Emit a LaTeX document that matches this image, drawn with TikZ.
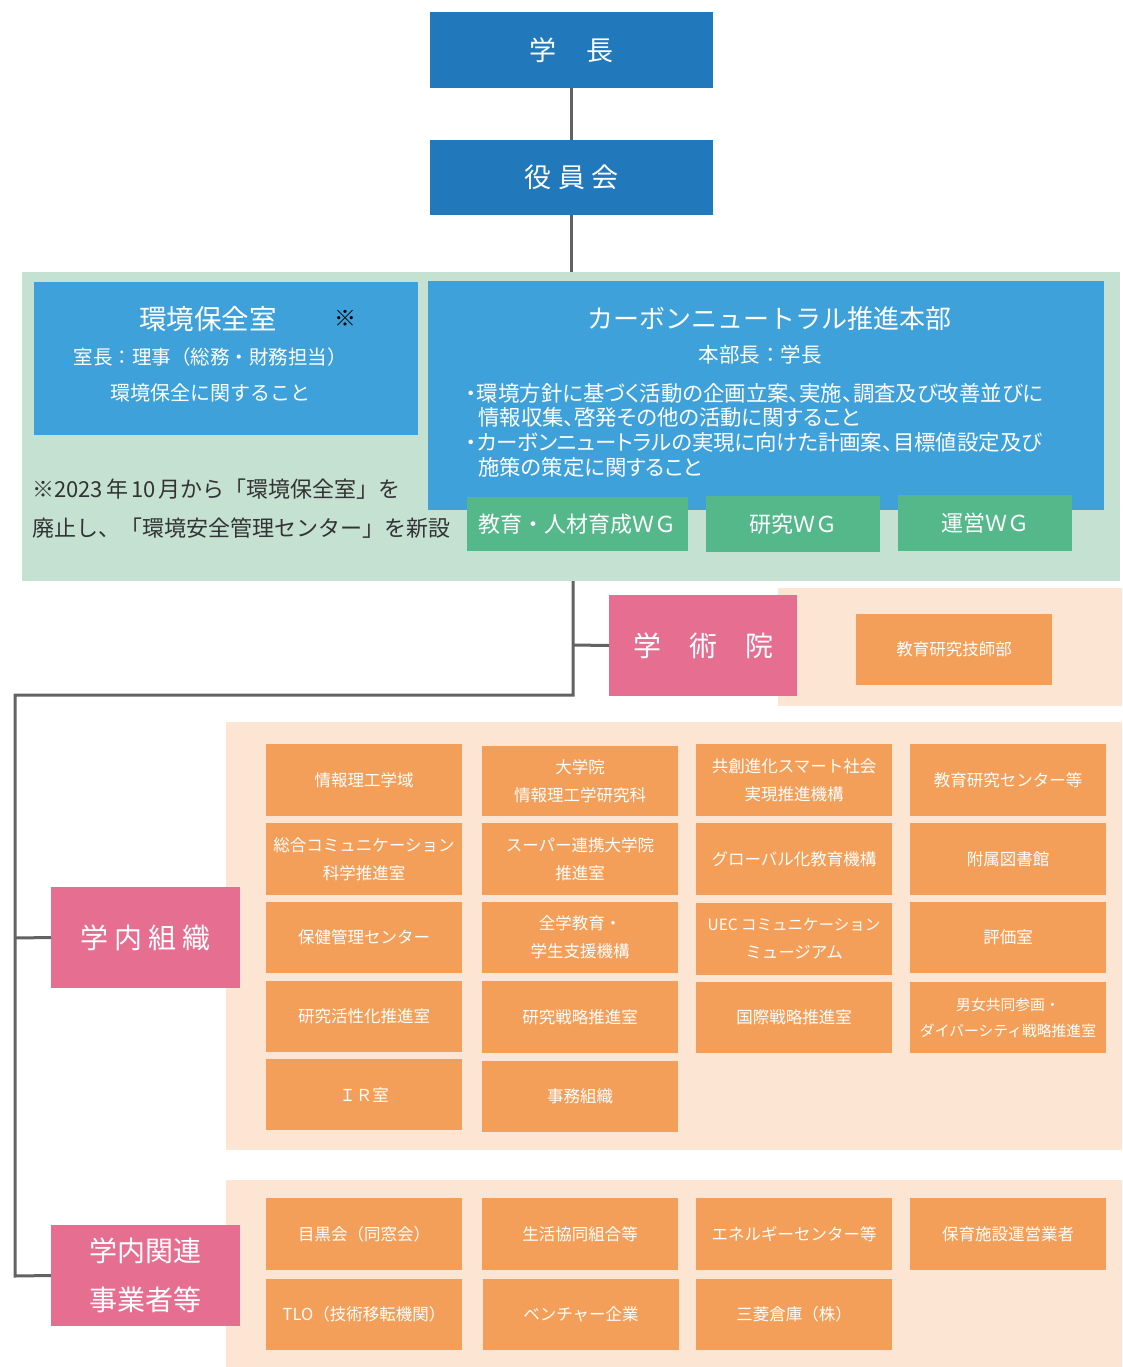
\documentclass[tikz,border=0pt]{standalone}
\usepackage{fontspec}
\setmainfont{Noto Sans CJK JP}
\newfontfamily\pfont[RawFeature=+palt]{Noto Sans CJK JP}
\definecolor{dblue}{HTML}{2179BC}
\definecolor{lblue}{HTML}{3FA1DA}
\definecolor{wggreen}{HTML}{55B88B}
\definecolor{bggreen}{HTML}{C4E1D2}
\definecolor{bgpeach}{HTML}{FCE6D3}
\definecolor{orng}{HTML}{F49F59}
\definecolor{pnk}{HTML}{E66F91}
\definecolor{conncol}{HTML}{626262}
\definecolor{notecol}{HTML}{333333}
\newcommand\fs[2]{\fontsize{#1pt}{#2pt}\selectfont}
\newcommand\bx[7]{\node[#2,minimum width={#5pt-#3pt},minimum height={#6pt-#4pt}] (#1) at ({(#3+#5)/2},{(#4+#6)/2}) {#7};}
\tikzset{
  basebox/.style={inner sep=0pt,outer sep=0pt,text=white,align=center},
  topbox/.style={basebox,fill=dblue,font=\fs{27}{32}},
  midbox/.style={basebox,fill=lblue},
  wgbox/.style={basebox,fill=wggreen,font=\fs{22}{26}},
  pinkbox/.style={basebox,fill=pnk,font=\fs{28}{49}},
  orbox/.style={basebox,fill=orng,font=\fs{16.5}{28}},
  bggbox/.style={basebox,fill=bggreen},
  bgpbox/.style={basebox,fill=bgpeach},
  conn/.style={draw=conncol,line width=3pt},
  wtext/.style={inner sep=0pt,text=white},
  ntext/.style={inner sep=0pt,text=notecol,font=\fs{22}{26},anchor=west}
}
\begin{document}
\begin{tikzpicture}[x=1pt,y=-1pt]
\useasboundingbox (0,0) rectangle (1122,1367);
% backgrounds
\bx{gbg}{bggbox}{22}{272}{1120}{581}{}
\bx{pbg1}{bgpbox}{778}{588}{1122}{706}{}
\bx{pbg2}{bgpbox}{226}{722}{1122}{1150}{}
\bx{pbg3}{bgpbox}{226}{1180}{1122}{1367}{}
% top
\bx{gakucho}{topbox}{430}{12}{713}{88}{学\hspace{30pt}長}
\bx{yakuin}{topbox}{430}{140}{713}{215}{役\hspace{7pt}員\hspace{7pt}会}
% blue boxes
\bx{kankyo}{midbox}{34}{282}{418}{435}{}
\node[wtext,font=\fs{27.5}{30}] (kt) at (208,319) {環境保全室};
\node[wtext,text=black,font=\fs{22}{26}] (kmark) at (345,318) {※};
\node[wtext,font=\fs{19.5}{24}] (kl1) at (210,357) {室長：理事（総務・財務担当）};
\node[wtext,font=\fs{20}{24}] (kl2) at (210,393) {環境保全に関すること};
\bx{carbon}{midbox}{428}{281}{1104}{510}{}
\node[wtext,font=\fs{26}{30}] (ct) at (769,319) {カーボンニュートラル推進本部};
\node[wtext,font=\fs{20.5}{24}] (cl1) at (760,355) {本部長：学長};
\node[wtext,anchor=west,font={\pfont\fs{21.4}{24}}] (cb1) at (466,393) {・環境方針に基づく活動の企画立案、実施、調査及び改善並びに};
\node[wtext,anchor=west,font={\pfont\fs{21.4}{24}}] (cb2) at (478,417) {情報収集、啓発その他の活動に関すること};
\node[wtext,anchor=west,font={\pfont\fs{21.4}{24}}] (cb3) at (466,442) {・カーボンニュートラルの実現に向けた計画案、目標値設定及び};
\node[wtext,anchor=west,font={\pfont\fs{21.4}{24}}] (cb4) at (478,467) {施策の策定に関すること};
% WG
\bx{wg1}{wgbox}{467}{497}{688}{551}{教育・人材育成ＷＧ}
\bx{wg2}{wgbox}{706}{496}{880}{552}{研究ＷＧ}
\bx{wg3}{wgbox}{898}{495}{1072}{551}{運営ＷＧ}
% note
\node[ntext] (n1) at (32,489) {※2023\hspace{3pt}年\hspace{3pt}10\hspace{3pt}月から「環境保全室」を};
\node[ntext] (n2) at (32,528) {廃止し、「環境安全管理センター」を新設};
% pink
\bx{gakujutsu}{pinkbox}{609}{595}{797}{696}{学\hspace{28pt}術\hspace{28pt}院}
\bx{gakunai}{pinkbox}{51}{887}{240}{988}{学\hspace{6pt}内\hspace{6pt}組\hspace{6pt}織}
\bx{kanren}{pinkbox}{51}{1225}{240}{1326}{学内関連\\事業者等}
% academy
\bx{gishi}{orbox}{856}{614}{1052}{685}{教育研究技師部}
% internal grid
\bx{a1}{orbox}{266}{744}{462}{816}{情報理工学域}
\bx{b1}{orbox}{482}{746}{678}{816}{大学院\\情報理工学研究科}
\bx{c1}{orbox}{696}{744}{892}{816}{共創進化スマート社会\\実現推進機構}
\bx{d1}{orbox}{910}{744}{1106}{816}{教育研究センター等}
\bx{a2}{orbox}{266}{823}{462}{895}{総合コミュニケーション\\科学推進室}
\bx{b2}{orbox}{482}{823}{678}{895}{スーパー連携大学院\\推進室}
\bx{c2}{orbox}{696}{823}{892}{895}{グローバル化教育機構}
\bx{d2}{orbox}{910}{823}{1106}{895}{附属図書館}
\bx{a3}{orbox}{266}{902}{462}{973}{保健管理センター}
\bx{b3}{orbox}{482}{902}{678}{973}{全学教育・\\学生支援機構}
\bx{c3}{orbox}{696}{903}{892}{975}{{\fs{15.5}{28}UEC コミュニケーション}\\ミュージアム}
\bx{d3}{orbox}{910}{902}{1106}{973}{評価室}
\bx{a4}{orbox}{266}{981}{462}{1052}{研究活性化推進室}
\bx{b4}{orbox}{482}{981}{678}{1053}{研究戦略推進室}
\bx{c4}{orbox}{696}{982}{892}{1053}{国際戦略推進室}
\bx{d4}{orbox,font=\fs{14.8}{26}}{910}{982}{1106}{1053}{男女共同参画・\\ダイバーシティ戦略推進室}
\bx{a5}{orbox}{266}{1059}{462}{1130}{ＩＲ室}
\bx{b5}{orbox}{482}{1061}{678}{1132}{事務組織}
% related
\bx{e1}{orbox}{266}{1198}{462}{1270}{目黒会（同窓会）}
\bx{f1}{orbox}{482}{1198}{678}{1270}{生活協同組合等}
\bx{g1}{orbox}{696}{1198}{892}{1270}{エネルギーセンター等}
\bx{h1}{orbox}{910}{1198}{1106}{1270}{保育施設運営業者}
\bx{e2}{orbox}{266}{1279}{462}{1350}{TLO（技術移転機関）}
\bx{f2}{orbox}{483}{1279}{679}{1350}{ベンチャー企業}
\bx{g2}{orbox}{696}{1279}{892}{1350}{三菱倉庫（株）}
% connectors
\coordinate (j1) at (573,645);
\coordinate (j2) at (573,695);
\coordinate (j3) at (15,695);
\coordinate (j4) at (15,938);
\coordinate (j5) at (15,1276);
\draw[conn] (gakucho.south) -- (yakuin.north);
\draw[conn] (yakuin.south) -- (yakuin.south |- gbg.north);
\draw[conn] (gbg.south -| j1) -- (j2) -- (j3) -- (j5) -- (kanren.west);
\draw[conn] (j1) -- (gakujutsu.west);
\draw[conn] (j4) -- (gakunai.west);
\end{tikzpicture}
\end{document}
